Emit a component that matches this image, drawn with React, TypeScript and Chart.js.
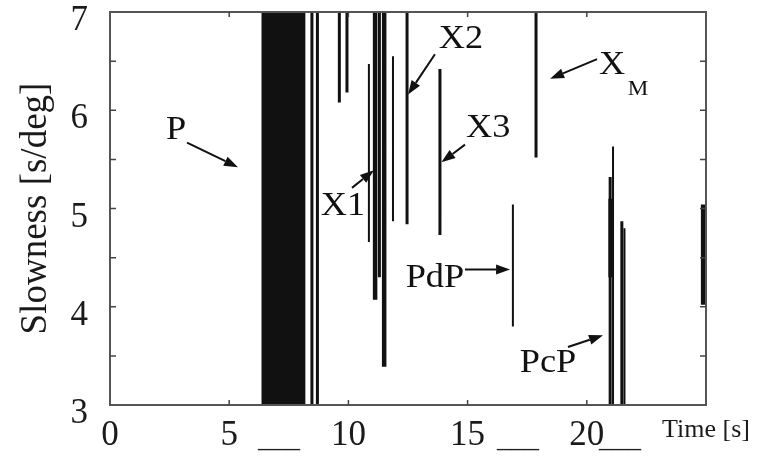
import React, { useEffect, useRef } from 'react';
import { Chart, registerables } from 'chart.js';

Chart.register(...registerables);

const SERIF = '"Liberation Serif", "Times New Roman", Times, serif';

// Axis ranges / ticks
const xTickValues = [0, 5, 10, 15, 20, 25];
const yTickValues = [3, 4, 5, 6, 7];

// Trace segments (time [s], slowness low, slowness high) grouped by trace thickness
const heavyTimes = [6.45, 6.62, 6.78, 6.95, 7.1, 7.28, 7.45, 7.6, 7.78, 7.95, 8.1, 11.12, 11.5, 21.0, 24.88];
const heavyLow = [3, 3, 3, 3, 3, 3, 3, 3, 3, 3, 3, 4.07, 3.39, 4.3, 4.02];
const heavyHigh = [7, 7, 7, 7, 7, 7, 7, 7, 7, 7, 7, 7, 7, 5.1, 5.04];

const mediumTimes = [8.47, 8.7, 9.62, 9.94, 11.3, 12.46, 13.84, 17.87, 20.98, 21.47];
const mediumLow = [3, 3, 6.08, 6.18, 4.3, 4.84, 4.73, 5.52, 3, 3];
const mediumHigh = [7, 7, 7, 7, 7, 7, 6.42, 7, 5.32, 4.87];

const thinTimes = [10.86, 11.87, 16.9, 21.1, 21.58];
const thinLow = [4.66, 4.87, 3.8, 3, 3];
const thinHigh = [6.47, 6.55, 5.04, 5.63, 4.8];

// Phase annotations
const labelTexts = ['P', 'X1', 'X2', 'X3', 'X', 'PdP', 'PcP'];
const labelX = [2.77, 9.77, 14.72, 15.86, 21.06, 13.63, 18.37];
const labelY = [5.8, 5.02, 6.72, 5.82, 6.46, 4.29, 3.42];
const subscriptText = 'M';
const subscriptX = 22.15;
const subscriptY = 6.21;

const arrowFromX = [3.23, 10.15, 13.63, 14.89, 20.43, 14.89, 19.21];
const arrowFromY = [5.67, 5.21, 6.57, 5.65, 6.52, 4.38, 3.59];
const arrowToX = [5.37, 11.07, 12.5, 13.9, 18.46, 16.78, 20.68];
const arrowToY = [5.42, 5.39, 6.16, 5.47, 6.32, 4.38, 3.71];

// Stray underscores printed next to some tick labels
const underscoreX = [7.09, 17.11, 21.39];

function segments(t: number[], lo: number[], hi: number[]) {
  const d: { x: number; y: number | null }[] = [];
  t.forEach((x, i) => {
    d.push({ x, y: lo[i] }, { x, y: hi[i] }, { x, y: null });
  });
  return d;
}

function drawArrow(ctx: CanvasRenderingContext2D, x1: number, y1: number, x2: number, y2: number) {
  const ang = Math.atan2(y2 - y1, x2 - x1);
  const L = 14;
  const W = 5;
  const bx = x2 - L * Math.cos(ang);
  const by = y2 - L * Math.sin(ang);
  ctx.beginPath();
  ctx.moveTo(x1, y1);
  ctx.lineTo(bx, by);
  ctx.stroke();
  ctx.beginPath();
  ctx.moveTo(x2, y2);
  ctx.lineTo(bx + W * Math.sin(ang), by - W * Math.cos(ang));
  ctx.lineTo(bx - W * Math.sin(ang), by + W * Math.cos(ang));
  ctx.closePath();
  ctx.fill();
}

function stretchedText(ctx: CanvasRenderingContext2D, t: string, x: number, y: number) {
  ctx.save();
  ctx.translate(x, y);
  ctx.scale(1.1, 1);
  ctx.fillText(t, 0, 0);
  ctx.restore();
}

const framePlugin = {
  id: 'frame',
  afterDatasetsDraw(chart: any) {
    const { ctx, chartArea: a, scales } = chart;
    const xs = scales.x;
    const ys = scales.y;
    ctx.save();
    // box
    ctx.strokeStyle = '#555';
    ctx.lineWidth = 2;
    ctx.strokeRect(a.left, a.top, a.right - a.left, a.bottom - a.top);
    // inward ticks
    ctx.strokeStyle = '#444';
    ctx.lineWidth = 1.5;
    ctx.beginPath();
    for (let v = 3.5; v < 7; v += 0.5) {
      const py = ys.getPixelForValue(v);
      ctx.moveTo(a.left, py);
      ctx.lineTo(a.left + 6, py);
      ctx.moveTo(a.right, py);
      ctx.lineTo(a.right - 6, py);
    }
    xTickValues.forEach((v) => {
      if (v <= 0 || v >= 25) return;
      const px = xs.getPixelForValue(v);
      ctx.moveTo(px, a.bottom);
      ctx.lineTo(px, a.bottom - 5);
      ctx.moveTo(px, a.top);
      ctx.lineTo(px, a.top + 5);
    });
    ctx.stroke();
    // annotations
    ctx.fillStyle = '#111';
    ctx.strokeStyle = '#111';
    ctx.lineWidth = 2;
    ctx.textAlign = 'center';
    ctx.textBaseline = 'middle';
    ctx.font = `33px ${SERIF}`;
    labelTexts.forEach((t, i) => {
      stretchedText(ctx, t, xs.getPixelForValue(labelX[i]), ys.getPixelForValue(labelY[i]));
    });
    ctx.font = `21px ${SERIF}`;
    stretchedText(ctx, subscriptText, xs.getPixelForValue(subscriptX), ys.getPixelForValue(subscriptY));
    arrowFromX.forEach((_, i) => {
      drawArrow(
        ctx,
        xs.getPixelForValue(arrowFromX[i]),
        ys.getPixelForValue(arrowFromY[i]),
        xs.getPixelForValue(arrowToX[i]),
        ys.getPixelForValue(arrowToY[i])
      );
    });
    // underscores
    ctx.fillStyle = '#222';
    ctx.font = `28px ${SERIF}`;
    ctx.textBaseline = 'alphabetic';
    underscoreX.forEach((v) => {
      ctx.fillText('___', xs.getPixelForValue(v), a.bottom + 42);
    });
    ctx.restore();
  },
};

export default function App() {
  const ref = useRef<HTMLCanvasElement>(null);
  useEffect(() => {
    document.body.style.margin = '0';
    if (!ref.current) return;
    const line = (data: any[], w: number) => ({
      data,
      borderColor: '#111',
      borderWidth: w,
      pointRadius: 0,
      spanGaps: false,
      borderCapStyle: 'butt',
      tension: 0,
    });
    const chart = new Chart(ref.current, {
      type: 'line',
      data: {
        datasets: [
          line(segments(heavyTimes, heavyLow, heavyHigh), 4.5),
          line(segments(mediumTimes, mediumLow, mediumHigh), 3),
          line(segments(thinTimes, thinLow, thinHigh), 2),
        ] as any,
      },
      options: {
        animation: false,
        responsive: false,
        maintainAspectRatio: false,
        layout: { padding: { top: 12, right: 55, left: 0, bottom: 0 } },
        plugins: { legend: { display: false }, tooltip: { enabled: false } },
        scales: {
          x: {
            type: 'linear',
            min: 0,
            max: 25,
            grid: { display: false, drawTicks: false },
            border: { display: false },
            afterBuildTicks: (s: any) => {
              s.ticks = xTickValues.map((v) => ({ value: v }));
            },
            ticks: {
              autoSkip: false,
              maxRotation: 0,
              padding: 10,
              color: '#1a1a1a',
              font: (c: any) =>
                c.tick && c.tick.value === 25 ? { family: SERIF, size: 26 } : { family: SERIF, size: 35 },
              callback: (v: any) => (v === 25 ? 'Time [s]' : String(v)),
            },
            afterFit: (s: any) => {
              s.height = 52;
              s.paddingLeft = 0;
              s.paddingRight = 0;
            },
          },
          y: {
            type: 'linear',
            min: 3,
            max: 7,
            grid: { display: false, drawTicks: false },
            border: { display: false },
            afterBuildTicks: (s: any) => {
              s.ticks = yTickValues.map((v) => ({ value: v }));
            },
            ticks: {
              autoSkip: false,
              padding: 22,
              labelOffset: 9,
              color: '#1a1a1a',
              font: { family: SERIF, size: 35 },
              callback: (v: any) => String(v),
            },
            title: {
              display: true,
              text: 'Slowness [s/deg]',
              color: '#1a1a1a',
              font: { family: SERIF, size: 37 },
              padding: { top: 14, bottom: 0 },
            },
            afterFit: (s: any) => {
              s.width = 110;
              s.paddingTop = 0;
              s.paddingBottom = 0;
            },
          },
        },
      } as any,
      plugins: [framePlugin],
    });
    return () => chart.destroy();
  }, []);
  return (
    <div style={{ position: 'relative', width: 761, height: 457, background: '#fff' }}>
      <canvas ref={ref} width={761} height={457} style={{ display: 'block', width: 761, height: 457 }} />
    </div>
  );
}
